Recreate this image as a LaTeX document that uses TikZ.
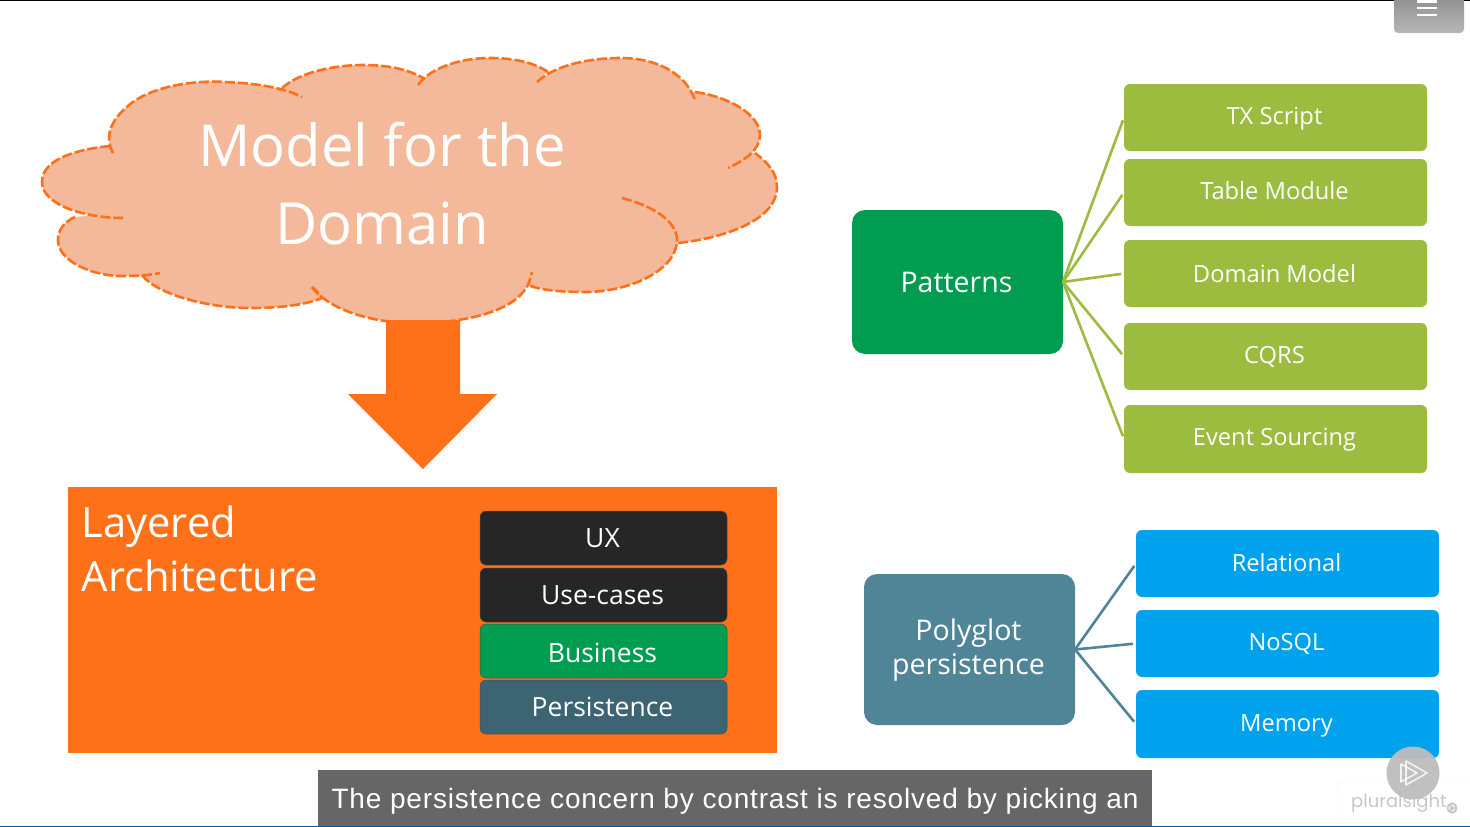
\documentclass[tikz,border=0pt]{standalone}
\usepackage{fontspec}
\setmainfont{Open Sans}
\newfontfamily\capfont[LetterSpace=3]{Liberation Sans}
\newfontfamily\logofont{Poppins}
\definecolor{orng}{HTML}{FF7119}
\definecolor{cloudc}{HTML}{F4B89A}
\definecolor{lime}{HTML}{9BBC3F}
\definecolor{skyb}{HTML}{00A2ED}
\definecolor{deepg}{HTML}{009C50}
\definecolor{teals}{HTML}{4F8596}
\definecolor{darkb}{HTML}{262626}
\definecolor{persc}{HTML}{3D6473}
% text set with its baseline #1 pt below the centre of its node
\newcommand\nudge[2]{\raisebox{-#1pt}[0pt][0pt]{#2\hspace*{2pt}}}
\newcommand\alllobes[2]{%
  \path[#1] (113,153) .. controls (106,140) and (106,122) .. (133,102) .. controls (155,86) and (195,80) .. (225,82) .. controls (255,83) and (285,88) .. (302,97) #2;
  \path[#1] (110,146) .. controls (80,149) and (42,158) .. (42,182) .. controls (42,205) and (85,218) .. (123,218) #2;
  \path[#1] (75,217) .. controls (64,222) and (58,230) .. (58,240) .. controls (58,262) and (95,277) .. (125,276) .. controls (140,276) and (150,275) .. (160,273) #2;
  \path[#1] (142,275) .. controls (155,293) and (205,308) .. (250,308) .. controls (280,308) and (305,305) .. (322,298) .. controls (320,294) and (316,290) .. (312,287) #2;
  \path[#1] (312,287) .. controls (320,300) and (355,323) .. (415,323) .. controls (470,323) and (515,310) .. (528,285) .. controls (530,280) and (531,276) .. (532,272) #2;
  \path[#1] (622,198) .. controls (650,205) and (677,220) .. (677,240) .. controls (677,270) and (630,292) .. (585,292) .. controls (560,292) and (540,290) .. (528,285) #2;
  \path[#1] (678,243) .. controls (725,238) and (777,220) .. (777,187) .. controls (777,172) and (767,162) .. (755,153) #2;
  \path[#1] (695,92) .. controls (730,97) and (760,115) .. (760,135) .. controls (760,150) and (745,160) .. (728,168) #2;
  \path[#1] (537,82) .. controls (555,65) and (590,58) .. (620,58) .. controls (655,58) and (685,72) .. (695,100) #2;
  \path[#1] (418,85) .. controls (430,68) and (460,58) .. (490,58) .. controls (515,58) and (535,63) .. (548,72) #2;
  \path[#1] (282,88) .. controls (300,72) and (335,65) .. (363,65) .. controls (390,65) and (410,70) .. (425,79) #2;
}
\tikzset{
  x=1pt,y=-1pt,
  box/.style={rounded corners=6pt,inner sep=0pt,outer sep=0pt,text=white,align=center,anchor=north west},
  limebox/.style={box,fill=lime,minimum width=303pt,minimum height=67pt,font=\fontsize{23.7}{25}\selectfont},
  skybox/.style={box,fill=skyb,minimum width=303pt,minimum height=67pt,font=\fontsize{23.7}{25}\selectfont},
  layerbox/.style={box,draw=black!70,line width=.5pt,minimum width=247pt,minimum height=54pt,font=\fontsize{26.5}{27}\selectfont},
  bigbox/.style={box,rounded corners=13pt,minimum width=211pt,font=\fontsize{28.5}{35}\selectfont},
  limelink/.style={draw=lime,line width=2.6pt},
  teallink/.style={draw=teals,line width=2.6pt},
  lobe/.style={draw=orng,line width=2.6pt,dash pattern=on 10pt off 3pt},
  cfill/.style={fill=cloudc}
}
\begin{document}
\begin{tikzpicture}
\useasboundingbox (0,0) rectangle (1470,827);
\fill[white] (0,0) rectangle (1470,827);
\fill[black] (0,0) rectangle (1470,1.2);
% cloud fill
\alllobes{cfill}{-- (382,190) -- cycle}
\fill[cfill] (125,165) -- (300,105) -- (420,90) -- (545,76) -- (690,105) -- (745,150) -- (670,235) -- (525,278) -- (315,283) -- (150,268) -- (90,222) -- cycle;
% shaft + head
\fill[orng] (386,320) -- (460,320) -- (460,394) -- (497,394) -- (423,469) -- (348,394) -- (386,394) -- cycle;
% cloud edges
\alllobes{lobe}{}
\node[text=white,align=center,font=\fontsize{58}{78}\selectfont] (cloudt) at (382,184) {Model for the\\Domain};
% layered
\node[box,fill=orng,rounded corners=0pt,minimum width=709pt,minimum height=266pt] (layer) at (68,487) {};
\node[text=white,align=left,anchor=north west,inner sep=0pt,font=\fontsize{41.7}{54}\selectfont] (layert) at (81.5,506) {Layered\\Architecture};
\node[layerbox,fill=darkb] (ux) at (480,511) {\nudge{9.5}{UX}};
\node[layerbox,fill=darkb] (use) at (480,568) {\nudge{9.6}{Use-cases}};
\node[layerbox,fill=deepg] (bus) at (480,624) {\nudge{11}{Business}};
\node[layerbox,fill=persc] (per) at (480,680) {\nudge{9.5}{Persistence}};
% patterns
\node[bigbox,fill=deepg,minimum height=144pt] (pat) at (852,210) {\nudge{10.3}{Patterns}};
\node[limebox] (tx) at (1124,84) {\nudge{7}{TX Script}};
\node[limebox] (tm) at (1124,159) {\nudge{7}{Table Module}};
\node[limebox] (dm) at (1124,240) {\nudge{8.5}{Domain Model}};
\node[limebox] (cq) at (1124,323) {\nudge{7}{CQRS}};
\node[limebox,minimum height=68pt] (es) at (1124,405) {\nudge{6.7}{Event Sourcing}};
\foreach \t in {tx,tm,dm,cq,es}{
  \draw[limelink,shorten >=3pt] (pat.east) -- (\t.west);
}
% polyglot
\node[bigbox,fill=teals,minimum height=151pt] (pol) at (864,574) {\nudge{7.5}{\begin{tabular}{@{}c@{}}Polyglot\\[-1pt]persistence\end{tabular}}};
\node[skybox] (rel) at (1136,530) {\nudge{8}{Relational}};
\node[skybox] (nos) at (1136,610) {\nudge{7.4}{NoSQL}};
\node[skybox,minimum height=68pt] (mem) at (1136,690) {\nudge{7.9}{Memory}};
\foreach \t in {rel,nos,mem}{
  \draw[teallink,shorten >=3pt] (pol.east) -- (\t.west);
}
% player overlays
\node[fill=white,draw=black!6,rounded corners=4pt,minimum width=140pt,minimum height=55pt,inner sep=0pt] (logo) at (1408,810) {};
\node[text=black!22,font=\logofont\fontsize{18}{18}\selectfont,anchor=west,inner sep=0pt] (logot) at (1351,803) {pluralsight};
\draw[black!22,line width=2pt] (1452,808) circle (4.5);
\fill[black!22] (1450,805) -- (1456,808) -- (1450,811) -- cycle;
\fill[black!26,opacity=.95] (1413,773) circle (26.5);
\draw[white,line width=1.6pt,opacity=.8,line join=round] (1406,761) -- (1427,773) -- (1406,785) -- cycle;
\draw[white,line width=1.6pt,opacity=.8,line join=round] (1401,764) -- (1401,782) -- (1417,773) -- cycle;
\node[fill=black!60,rounded corners=0pt,minimum width=834pt,minimum height=57pt,inner sep=0pt,anchor=north west] (capb) at (318,770) {};
\node[text=white,anchor=center,inner sep=0pt,font=\capfont\fontsize{28}{28}\selectfont] (capt) at (735,801) {The persistence concern by contrast is resolved by picking an};
\fill[teal!70!blue] (0,826) rectangle (1470,827);
\shade[top color=black!45,bottom color=black!28,rounded corners=4pt] (1394,-6) rectangle (1464,33);
\draw[white,line width=2.4pt] (1417,1.5) -- (1437,1.5) (1417,8) -- (1437,8) (1417,15) -- (1437,15);
\end{tikzpicture}
\end{document}
